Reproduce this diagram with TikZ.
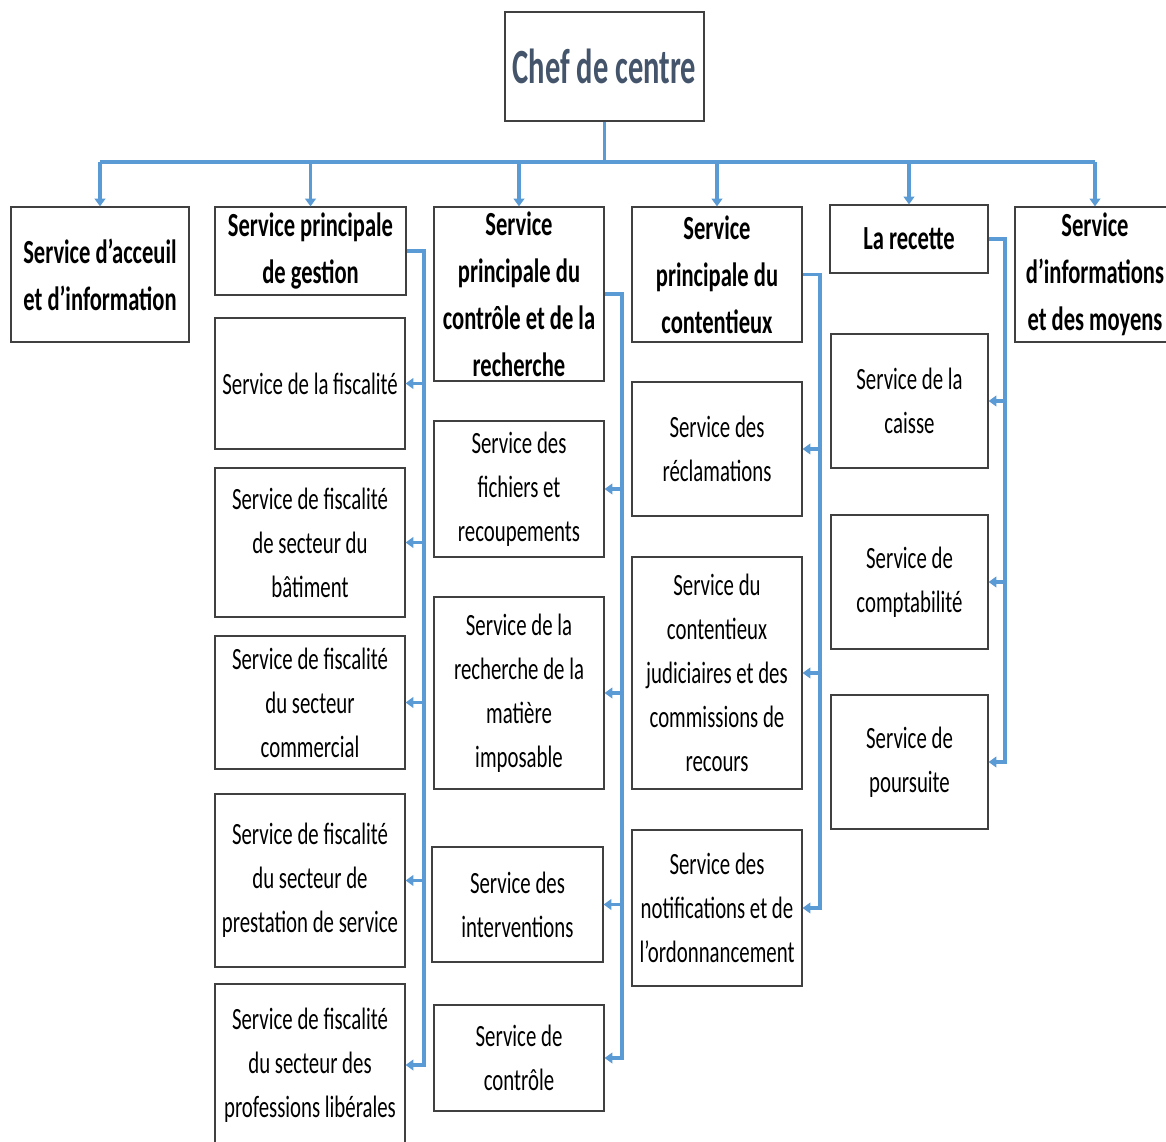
\documentclass[tikz,border=0pt]{standalone}
\usepackage{fontspec}
\setmainfont{Carlito}[FakeStretch=0.673]
\newfontfamily\headfont{Carlito}[FakeStretch=0.668]
\newfontfamily\cheffont{Carlito}[FakeStretch=0.62]
\usetikzlibrary{arrows.meta}
\definecolor{conncol}{RGB}{91,155,213}
\definecolor{boxcol}{RGB}{64,64,64}
\definecolor{chefcol}{RGB}{68,84,106}
\def\pxu{0.7113pt}
\tikzset{
  box/.style={draw=boxcol, line width=0.8pt, inner sep=0pt, align=center,
    font=\fontsize{22}{31.3}\selectfont},
  head/.style={box, font=\headfont\bfseries\fontsize{24}{33.4}\selectfont},
  chef/.style={box, text=chefcol, font=\cheffont\bfseries\fontsize{35}{40}\selectfont},
  conn/.style={draw=conncol, line width=2.2pt},
  arr/.style={conn, -{Triangle[length=5.5pt,width=7.5pt]}},
}
\newcommand\bx[7]{\node[#6, minimum width={(#4-#2)*\pxu}, minimum height={(#5-#3)*\pxu}] (#1) at ({(#2+#4)/2},{(#3+#5)/2}) {#7};}
\begin{document}
\begin{tikzpicture}[x=0.025cm,y=-0.025cm]
\clip (0,0) rectangle (1166,1142);
\useasboundingbox (0,0) rectangle (1166,1142);
% top
\bx{chef}{505}{12}{704}{121}{chef}{Chef de centre}
\bx{acc}{11}{207}{189}{342}{head}{Service d’acceuil\\et d’information}
\bx{gest}{215}{207}{406}{295}{head}{Service principale\\de gestion}
\bx{ctrl}{434}{207}{604}{381}{head}{Service\\principale du\\contrôle et de la\\recherche}
\bx{cont}{632}{207}{802}{342}{head}{Service\\principale du\\contentieux}
\bx{rec}{830}{205}{988}{273}{head}{La recette}
\bx{info}{1015}{207}{1175}{342}{head}{Service\\d’informations\\et des moyens}
% column gestion
\bx{g1}{215}{318}{405}{449}{box}{Service de la fiscalité}
\bx{g2}{215}{468}{405}{617}{box}{Service de fiscalité\\de secteur du\\bâtiment}
\bx{g3}{215}{636}{405}{769}{box}{Service de fiscalité\\du secteur\\commercial}
\bx{g4}{215}{794}{405}{967}{box}{Service de fiscalité\\du secteur de\\prestation de service}
\bx{g5}{215}{984}{405}{1146}{box}{Service de fiscalité\\du secteur des\\professions libérales}
% column controle
\bx{c1}{434}{421}{604}{557}{box}{Service des\\fichiers et\\recoupements}
\bx{c2}{434}{597}{604}{789}{box}{Service de la\\recherche de la\\matière\\imposable}
\bx{c3}{432}{847}{603}{962}{box}{Service des\\interventions}
\bx{c4}{434}{1005}{604}{1111}{box}{Service de\\contrôle}
% column contentieux
\bx{t1}{632}{382}{802}{516}{box}{Service des\\réclamations}
\bx{t2}{632}{557}{802}{789}{box}{Service du\\contentieux\\judiciaires et des\\commissions de\\recours}
\bx{t3}{632}{830}{802}{986}{box}{Service des\\notifications et de\\l’ordonnancement}
% column recette
\bx{r1}{831}{334}{988}{468}{box}{Service de la\\caisse}
\bx{r2}{831}{515}{988}{649}{box}{Service de\\comptabilité}
\bx{r3}{831}{695}{988}{829}{box}{Service de\\poursuite}
% bus
\coordinate (bus) at (0,162);
\draw[conn] (chef.south) -- (chef.south |- bus);
\draw[conn] (acc.north |- bus) -- (info.north |- bus);
\foreach \n in {acc,gest,ctrl,cont,rec,info}
  \draw[arr] (\n.north |- bus) -- (\n.north);
% gestion column
\coordinate (gx) at (424,0);
\draw[arr] (gest.east) -| (gx |- g5.east) -- (g5.east);
\foreach \n in {g1,g2,g3,g4} \draw[arr] (gx |- \n.east) -- (\n.east);
% controle column
\coordinate (cx) at (622,0);
\draw[arr] (ctrl.east) -| (cx |- c4.east) -- (c4.east);
\foreach \n in {c1,c2,c3} \draw[arr] (cx |- \n.east) -- (\n.east);
% contentieux column
\coordinate (tx) at (820,0);
\draw[arr] (cont.east) -| (tx |- t3.east) -- (t3.east);
\foreach \n in {t1,t2} \draw[arr] (tx |- \n.east) -- (\n.east);
% recette column
\coordinate (rx) at (1005,0);
\draw[arr] (rec.east) -| (rx |- r3.east) -- (r3.east);
\foreach \n in {r1,r2} \draw[arr] (rx |- \n.east) -- (\n.east);
\end{tikzpicture}
\end{document}
